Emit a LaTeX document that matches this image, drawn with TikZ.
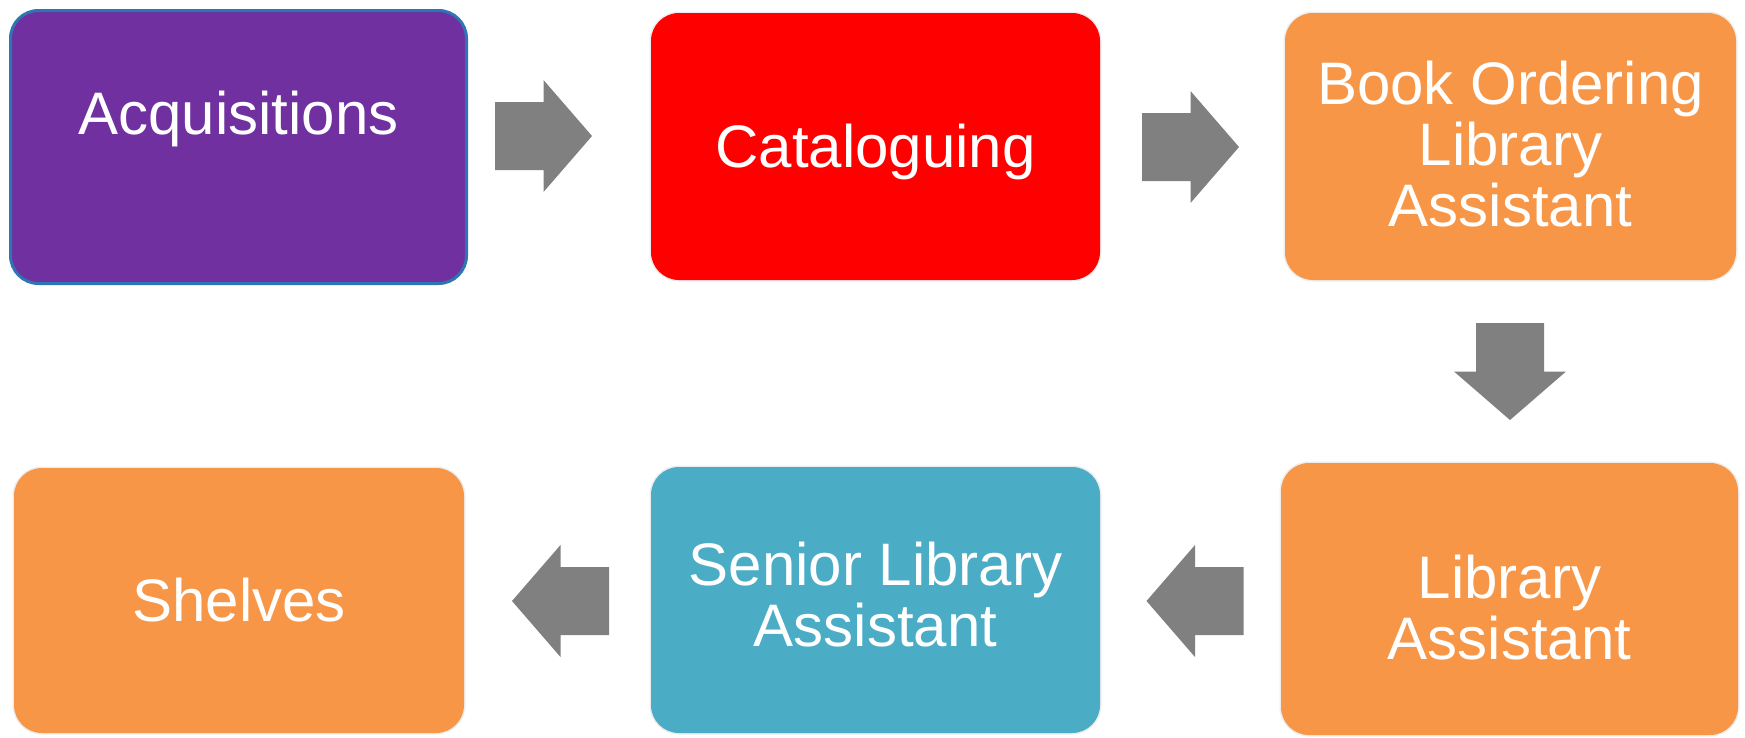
\documentclass[tikz,border=0pt]{standalone}
\usepackage{fontspec}
\setmainfont{Liberation Sans}
\usetikzlibrary{calc}

\definecolor{acqpurple}{HTML}{7030A0}
\definecolor{acqblue}{HTML}{2E75B6}
\definecolor{catred}{HTML}{FF0000}
\definecolor{staforange}{HTML}{F79646}
\definecolor{seniorteal}{HTML}{4BACC6}
\definecolor{flowgray}{HTML}{808080}

\tikzset{
  box/.style={rounded corners=28pt, inner sep=0pt, draw=none,
    preaction={draw=black!7, line width=3pt}},
  boxtext/.style={text=white, font=\fontsize{60}{61}\selectfont,
    align=center, anchor=north, inner sep=0pt},
  flowarrow/.style={fill=flowgray},
}

% block arrow centred on a coordinate, pointing along the given angle
\newcommand\blockarrow[2]{%
  \fill[flowarrow, shift={(#1)}, rotate=#2]
    (-48.5,-34) -- (0,-34) -- (0,-56) -- (48.5,0) -- (0,56) -- (0,34) -- (-48.5,34) -- cycle;}

\begin{document}
\begin{tikzpicture}[x=1pt, y=-1pt]
  \useasboundingbox (0,0) rectangle (1745,737);
  \fill[white] (0,0) rectangle (1745,737);

  % process boxes
  \node[rounded corners=28pt, inner sep=0pt, fill=acqpurple, draw=acqblue, line width=3pt,
        minimum width=456pt, minimum height=273pt] (acq) at (238.5,147) {};
  \node[box, fill=catred, minimum width=449pt, minimum height=267pt] (cat) at (875.5,146.5) {};
  \node[box, fill=staforange, minimum width=451pt, minimum height=267pt] (book) at (1510.5,146.5) {};
  \node[box, fill=staforange, minimum width=457pt, minimum height=272pt] (lib) at (1509.5,599) {};
  \node[box, fill=seniorteal, minimum width=449pt, minimum height=266pt] (senior) at (875.5,600) {};
  \node[box, fill=staforange, minimum width=450pt, minimum height=265pt] (shelves) at (239,600.5) {};

  % box texts
  \node[boxtext] (acqtxt) at (238.5,91) {Acquisitions};
  \node[boxtext] (cattxt) at (875.5,124) {Cataloguing};
  \node[boxtext] (booktxt) at (1510.5,61) {Book Ordering\\Library\\Assistant};
  \node[boxtext] (libtxt) at (1509.5,555) {Library\\Assistant};
  \node[boxtext] (seniortxt) at (875.5,542) {Senior Library\\Assistant};
  \node[boxtext] (shelvestxt) at (239,578) {Shelves};

  % flow arrows between the boxes
  \coordinate (a1) at (543.5,136);
  \coordinate (a2) at (1190.5,147);
  \coordinate (a3) at (1510,371.5);
  \coordinate (a4) at (1195,601);
  \coordinate (a5) at (560.5,601);
  \blockarrow{a1}{0}
  \blockarrow{a2}{0}
  \blockarrow{a3}{-90}
  \blockarrow{a4}{180}
  \blockarrow{a5}{180}
\end{tikzpicture}
\end{document}
